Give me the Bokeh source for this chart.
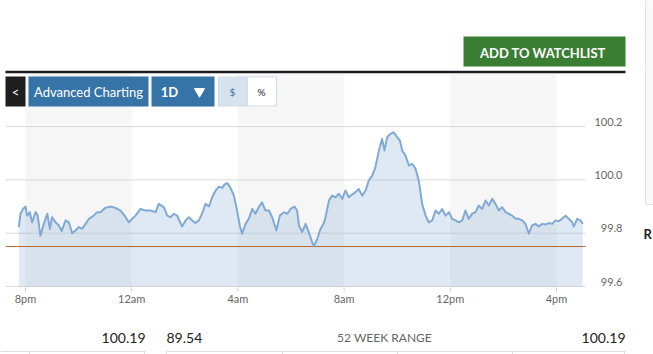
from bokeh.plotting import figure
from bokeh.models import Range1d
from bokeh.core.properties import value
from bokeh.embed import file_html
from bokeh.resources import INLINE

# ---- data (hours after 8pm, price) ----
hours = [-0.25, -0.19, -0.09, 0.00, 0.06, 0.16, 0.25, 0.38, 0.46, 0.56, 0.69, 0.82, 0.92, 1.00, 1.13,
         1.26, 1.36, 1.51, 1.63, 1.76, 1.88, 2.01, 2.13, 2.26, 2.39, 2.57, 2.70, 2.82, 3.01, 3.20,
         3.39, 3.58, 3.73, 3.89, 4.02, 4.14, 4.33, 4.52, 4.71, 4.90, 5.02, 5.21, 5.34, 5.46, 5.59,
         5.71, 5.90, 6.03, 6.15, 6.28, 6.40, 6.53, 6.65, 6.78, 6.91, 7.03, 7.16, 7.28, 7.41, 7.50,
         7.60, 7.72, 7.85, 7.97, 8.07, 8.16, 8.29, 8.41, 8.54, 8.66, 8.79, 8.91, 9.04, 9.17, 9.29,
         9.45, 9.58, 9.73, 9.86, 9.98, 10.13, 10.23, 10.30, 10.42, 10.55, 10.67, 10.80, 10.86, 10.99, 11.11,
         11.24, 11.30, 11.43, 11.55, 11.68, 11.80, 11.93, 12.05, 12.18, 12.30, 12.43, 12.55, 12.68, 12.81, 12.93,
         13.06, 13.18, 13.31, 13.43, 13.52, 13.62, 13.75, 13.87, 14.00, 14.10, 14.19, 14.31, 14.44, 14.56, 14.69,
         14.81, 14.94, 15.07, 15.19, 15.32, 15.44, 15.57, 15.69, 15.82, 15.95, 16.07, 16.20, 16.32, 16.45, 16.57,
         16.70, 16.82, 16.95, 17.07, 17.20, 17.33, 17.45, 17.58, 17.70, 17.83, 17.95, 18.08, 18.20, 18.33, 18.46,
         18.58, 18.71, 18.83, 18.96, 19.08, 19.21, 19.33, 19.46, 19.59, 19.71, 19.84, 19.96, 20.09, 20.21, 20.34,
         20.46, 20.59, 20.65, 20.78, 20.90, 20.99]
prices = [99.823, 99.873, 99.891, 99.900, 99.866, 99.879, 99.841, 99.879, 99.866, 99.791, 99.835, 99.873, 99.816, 99.860, 99.841,
          99.829, 99.808, 99.848, 99.841, 99.800, 99.810, 99.823, 99.816, 99.835, 99.854, 99.866, 99.879, 99.879, 99.895, 99.900,
          99.895, 99.885, 99.866, 99.841, 99.854, 99.866, 99.891, 99.885, 99.885, 99.879, 99.910, 99.898, 99.866, 99.860, 99.873,
          99.866, 99.825, 99.848, 99.860, 99.848, 99.838, 99.848, 99.873, 99.910, 99.900, 99.935, 99.960, 99.975, 99.970, 99.983,
          99.988, 99.970, 99.941, 99.885, 99.829, 99.798, 99.835, 99.854, 99.891, 99.873, 99.898, 99.916, 99.885, 99.885, 99.860,
          99.810, 99.866, 99.879, 99.873, 99.891, 99.900, 99.885, 99.829, 99.804, 99.835, 99.804, 99.766, 99.750, 99.779, 99.816,
          99.838, 99.860, 99.923, 99.941, 99.935, 99.948, 99.929, 99.960, 99.935, 99.945, 99.954, 99.966, 99.941, 99.960, 99.998,
          100.016, 100.048, 100.110, 100.154, 100.110, 100.160, 100.173, 100.179, 100.160, 100.148, 100.110, 100.092, 100.054, 100.060, 100.042,
          99.998, 99.910, 99.866, 99.841, 99.848, 99.885, 99.873, 99.891, 99.866, 99.879, 99.854, 99.848, 99.841, 99.848, 99.885,
          99.854, 99.873, 99.879, 99.904, 99.891, 99.923, 99.904, 99.929, 99.910, 99.885, 99.898, 99.879, 99.873, 99.866, 99.854,
          99.854, 99.848, 99.835, 99.798, 99.829, 99.835, 99.825, 99.835, 99.833, 99.838, 99.835, 99.848, 99.845, 99.854, 99.866,
          99.854, 99.841, 99.825, 99.854, 99.848, 99.835]
prev_close = 99.75
price_ticks = [99.6, 99.8, 100.0, 100.2]
price_tick_labels = ["99.6", "99.8", "100.0", "100.2"]
time_ticks = [0, 4, 8, 12, 16, 20]
time_tick_labels = ["8pm", "12am", "4am", "8am", "12pm", "4pm"]
band_starts = [0, 8, 16]
band_ends = [4, 12, 20]
day_high_label = "100.19"
week52_low_label = "89.54"
week52_high_label = "100.19"

# ---- page frame in screen pixels; chart scales mapped onto it ----
W, H = 653, 354
X0, PX_PER_H = 25.0, 26.55          # 8pm pixel and pixels per hour
Y0, PX_PER_P = 286.0, 266.5         # 99.6 pixel and pixels per price unit
FONT = value("Lato")

p = figure(width=W, height=H, x_range=Range1d(0, W), y_range=Range1d(H, 0),
           output_backend="svg", toolbar_location=None, min_border=0,
           x_axis_type=None, y_axis_type=None, background_fill_color="white",
           border_fill_color="white")
p.outline_line_color = None
p.extra_x_ranges = {"h": Range1d(-X0 / PX_PER_H, (W - X0) / PX_PER_H)}
p.extra_y_ranges = {"pr": Range1d(price_ticks[0] - (H - Y0) / PX_PER_P,
                                  price_ticks[0] + Y0 / PX_PER_P)}

# right side panel
p.quad(left=645, right=665, top=-5, bottom=204, fill_color="#f9f9f9", line_color="#e2e2e2")
p.text(x=643, y=233, text=["R"], text_font=FONT, text_font_style="bold", text_font_size="13px",
       text_color="#222222", text_baseline="middle")

# green button + black rule
p.quad(left=463, right=625, top=36, bottom=66, fill_color="#3a7e33", line_color=None)
p.text(x=544, y=52, text=["ADD TO  WATCHLIST"], text_font=FONT, text_font_style="bold",
       text_font_size="13px", text_color="white", text_align="center", text_baseline="middle")

# alternating time bands
p.quad(left=band_starts, right=band_ends, top=73, bottom=287, x_range_name="h",
       fill_color="#f6f6f6", line_color=None)
p.segment(x0=5, x1=625, y0=71.5, y1=71.5, line_color="#1c1c24", line_width=2.5)

# grid lines
p.segment(x0=5, x1=585, y0=price_ticks, y1=price_ticks, y_range_name="pr",
          line_color="#d9d9d9", line_width=1)

# area + previous close + price line
p.varea(x=hours, y1=prices, y2=price_ticks[0], x_range_name="h", y_range_name="pr",
        fill_color="#7ea6cf", fill_alpha=0.25)
p.segment(x0=5, x1=585, y0=prev_close, y1=prev_close, y_range_name="pr",
          line_color="#b8672f", line_width=1)
p.line(hours, prices, x_range_name="h", y_range_name="pr", line_color="#80aad5",
       line_width=2, line_join="round")

# axis labels
p.text(x=622, y=price_ticks, text=price_tick_labels, y_range_name="pr", text_align="right",
       text_baseline="middle", y_offset=-5, text_font=FONT, text_font_size="11px",
       text_color="#666666")
p.segment(x0=time_ticks, x1=time_ticks, y0=287, y1=291, x_range_name="h", line_color="#cccccc")
p.text(x=time_ticks, y=298, text=time_tick_labels, x_range_name="h", text_align="center",
       text_baseline="middle", text_font=FONT, text_font_size="11px", text_color="#666666")

# chart toolbar buttons
p.quad(left=[5, 28, 151], right=[25, 148, 214], top=76, bottom=106,
       fill_color=["#1e1e1e", "#3673a7", "#3673a7"], line_color=None)
p.quad(left=[218, 247], right=[247, 276], top=76.5, bottom=105.5,
       fill_color=["#d6e3ef", "#ffffff"], line_color="#cfdbe6")
p.text(x=[15, 88, 169], y=91, text=["<", "Advanced Charting", "1D"], text_font=FONT,
       text_font_style=["normal", "normal", "bold"], text_font_size="13px", text_color="white",
       text_align="center", text_baseline="middle")
p.scatter(x=199, y=91, marker="inverted_triangle", size=10, fill_color="white", line_color="white")
p.text(x=[232, 261], y=91, text=["$", "%"], text_font=FONT, text_font_size="10px",
       text_color=["#3a6f9f", "#222222"], text_align="center", text_baseline="middle")

# bottom stats row
p.text(x=[145, 625], y=337, text=[day_high_label, week52_high_label], text_font=FONT,
       text_font_size="14px", text_color="#222222", text_align="right", text_baseline="middle")
p.text(x=166, y=337, text=[week52_low_label], text_font=FONT, text_font_size="14px",
       text_color="#222222", text_align="left", text_baseline="middle")
p.text(x=384, y=337, text=["52 WEEK RANGE"], text_font=FONT, text_font_size="12px",
       text_color="#666666", text_align="center", text_baseline="middle")
p.segment(x0=[0, 166], x1=[145, 625], y0=351, y1=351, line_color="#dddddd")
p.segment(x0=[29, 144, 166, 282, 397, 512, 624], x1=[29, 144, 166, 282, 397, 512, 624],
          y0=351, y1=356, line_color="#dddddd")

open("out.html", "w").write(file_html(p, INLINE))
